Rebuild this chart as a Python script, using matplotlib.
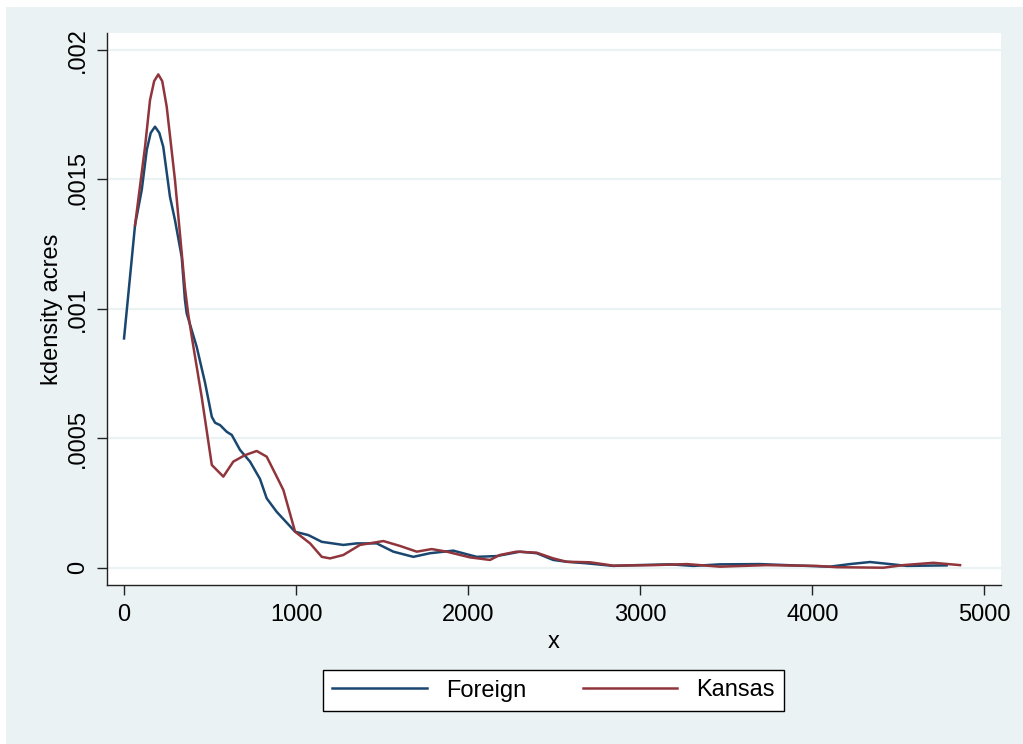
import numpy as np
import matplotlib.pyplot as plt
from matplotlib.patches import Rectangle

# Kernel density estimates of farm acres (x, density)
foreign_x = [0, 64, 103, 132, 155, 180, 205, 228, 267, 296, 335, 354, 364, 422, 471,
             510, 529, 558, 597, 626, 674, 732, 790, 829, 887, 994, 1071, 1149, 1274,
             1352, 1468, 1565, 1681, 1778, 1913, 2049, 2166, 2301, 2398, 2494, 2572,
             2689, 2843, 2979, 3173, 3308, 3463, 3696, 3928, 4102, 4218, 4335, 4451,
             4548, 4780]
foreign_y = [0.000886, 0.001324, 0.00146, 0.001614, 0.00168, 0.001704, 0.00168, 0.001626,
             0.001433, 0.001343, 0.001201, 0.001034, 0.000983, 0.000854, 0.000714,
             0.000583, 0.00056, 0.000551, 0.000525, 0.000513, 0.000455, 0.00041,
             0.000343, 0.000268, 0.000216, 0.000139, 0.000126, 0.0001, 0.000088,
             0.000094, 0.000094, 0.000062, 0.000042, 0.000056, 0.000066, 0.000042,
             0.000045, 0.000062, 0.000056, 0.00003, 0.000023, 0.000017, 0.000007,
             0.00001, 0.000013, 0.000007, 0.000013, 0.000014, 0.000008, 0.000004,
             0.000014, 0.000022, 0.000014, 0.000007, 0.000009]

kansas_x = [64, 122, 151, 175, 199, 222, 248, 296, 354, 372, 403, 451, 510, 577, 635,
            703, 771, 829, 897, 926, 994, 1081, 1149, 1197, 1274, 1371, 1507, 1604,
            1701, 1788, 1875, 2010, 2127, 2183, 2280, 2398, 2494, 2572, 2708, 2843,
            3076, 3270, 3463, 3734, 4025, 4141, 4412, 4528, 4703, 4858]
kansas_y = [0.001324, 0.001626, 0.001807, 0.00188, 0.001906, 0.00188, 0.001781, 0.001498,
            0.001081, 0.000984, 0.000854, 0.000661, 0.000397, 0.000352, 0.00041,
            0.000435, 0.000451, 0.000429, 0.000339, 0.0003, 0.000139, 0.000094,
            0.000042, 0.000036, 0.000049, 0.000088, 0.000103, 0.000084, 0.000062,
            0.000072, 0.000062, 0.00004, 0.00003, 0.000049, 0.000062, 0.000058,
            0.000036, 0.000023, 0.000021, 0.000008, 0.00001, 0.000014, 0.000004,
            0.00001, 0.000007, 0.000002, 0.0, 0.00001, 0.000019, 0.00001]

y_ticks = [0, 0.0005, 0.001, 0.0015, 0.002]
y_labels = ['0', '.0005', '.001', '.0015', '.002']
x_ticks = [0, 1000, 2000, 3000, 4000, 5000]

bg = '#eaf2f3'
navy = '#1a476f'
maroon = '#90353b'

plt.rcParams['font.family'] = ['Liberation Sans', 'DejaVu Sans']

W, H = 1023, 744
fig = plt.figure(figsize=(W / 100, H / 100), dpi=100, facecolor='white')
fig.patches.append(Rectangle((6 / W, 0), 1, 1 - 7 / H, transform=fig.transFigure,
                             facecolor=bg, edgecolor='none', zorder=-10))

ax = fig.add_axes([107 / W, 1 - 585 / H, 894 / W, 552 / H])
ax.set_facecolor('white')

ax.plot(foreign_x, foreign_y, color=navy, lw=1.8, label='Foreign',
        solid_joinstyle='round')
ax.plot(kansas_x, kansas_y, color=maroon, lw=1.8, label='Kansas',
        solid_joinstyle='round')

ax.set_xlim(-99, 5096)
ax.set_ylim(-0.0000668, 0.002066)

ax.set_yticks(y_ticks)
ax.set_yticklabels(y_labels, rotation=90, va='center')
ax.set_xticks(x_ticks)
ax.grid(axis='y', color=bg, lw=1.6)
ax.set_axisbelow(True)

for s in ['top', 'right']:
    ax.spines[s].set_visible(False)
for s in ['left', 'bottom']:
    ax.spines[s].set_linewidth(1.0)
    ax.spines[s].set_color('#222222')

ax.tick_params(axis='both', length=7, width=1.0, color='#222222',
               labelsize=17, labelcolor='black')
ax.tick_params(axis='y', pad=6)
ax.tick_params(axis='x', pad=7)

ax.set_xlabel('x', fontsize=17, labelpad=3)
ax.set_ylabel('kdensity acres', fontsize=17, labelpad=3)

leg = fig.legend(loc='center', bbox_to_anchor=(553.5 / W, 1 - 690.5 / H), ncol=2,
                 fontsize=17, frameon=True, fancybox=False, edgecolor='black',
                 facecolor='white', framealpha=1, handlelength=4.0,
                 handletextpad=0.8, columnspacing=2.4, borderpad=0.4)
leg.get_frame().set_linewidth(1.0)

fig.savefig('out.png', dpi=100, facecolor=fig.get_facecolor())
